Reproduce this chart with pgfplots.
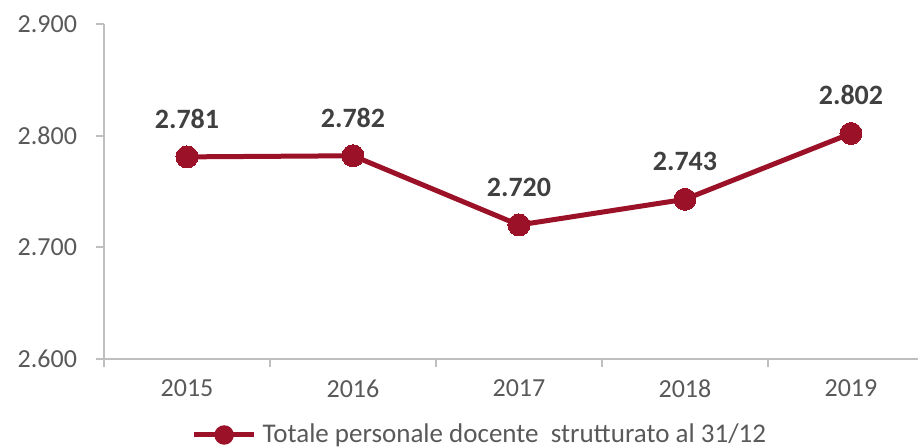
\documentclass[border=0pt]{standalone}
\usepackage{pgfplots}
\pgfplotsset{compat=1.18}
\usepackage{fontspec}
\setmainfont{Carlito}
\definecolor{myred}{RGB}{155,17,39}
\definecolor{axgray}{RGB}{191,191,191}
\definecolor{tickgray}{RGB}{89,89,89}
\definecolor{labgray}{RGB}{64,64,64}
\begin{document}
\begin{tikzpicture}
\begin{axis}[
  scale only axis,
  width=407pt, height=167.5pt,
  xmin=-0.5, xmax=4.404,
  ymin=2600, ymax=2900,
  ytick={2600,2700,2800,2900},
  xtick={0,1,2,3,4},
  xticklabels={2015,2016,2017,2018,2019},
  minor xtick={-0.5,0.5,1.5,2.5,3.5},
  axis x line=bottom, axis y line=left,
  axis line style={draw=axgray, line width=1pt, -},
  tick align=outside,
  major x tick style={draw=none},
  minor tick length=4pt,
  major tick length=4pt,
  every tick/.style={draw=axgray, line width=1pt},
  minor x tick style={draw=axgray, line width=1pt},
  ytick style={draw=axgray, line width=1pt},
  /pgf/number format/.cd, 1000 sep={.}, assume math mode=true, fixed,
  /pgfplots/.cd,
  ticklabel style={font=\fontsize{13}{15}\selectfont, text=tickgray},
  yticklabel style={xshift=-6pt},
  xticklabel style={yshift=-3pt},
  nodes near coords,
  every node near coord/.append style={font=\fontsize{14}{16}\selectfont\bfseries, text=labgray, anchor=center, yshift=19pt},
  legend style={at={(axis description cs:0.463,0)}, anchor=center, yshift=-38pt, draw=none, fill=none, font=\fontsize{13.5}{15}\selectfont, text=tickgray},
  legend image code/.code={\draw[line width=2.5pt, color=myred] (0pt,0pt) -- (30pt,0pt); \fill[myred] (15pt,0pt) circle (3.6pt);},
  clip=false,
]
\addplot[color=myred, line width=2.5pt, mark=*, mark size=5.5pt, mark options={fill=myred, draw=myred, line width=0pt}] coordinates {
  (0,2781) (1,2782) (2,2720) (3,2743) (4,2802)
};
\addlegendentry{\hspace{1pt}Totale personale docente\ \ strutturato al 31/12}
\end{axis}
\pgfresetboundingbox
\path (-52pt,-44.5pt) rectangle (408pt,179.5pt);
\end{tikzpicture}
\end{document}
